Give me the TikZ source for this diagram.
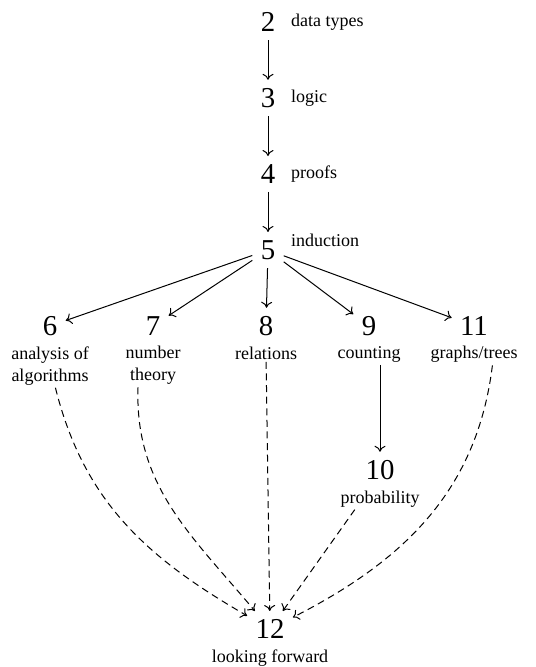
\documentclass[tikz,border=0pt]{standalone}
\usepackage{fontspec}
\setmainfont{Liberation Serif}
\usetikzlibrary{arrows.meta,positioning,calc}

\begin{document}
\begin{tikzpicture}[x=0.5pt, y=-0.5pt, line width=0.5pt,
  num/.style={font=\Large, inner sep=4pt},
  lab/.style={font=\small, align=center, inner sep=1pt},
  arr/.style={-{To[length=3pt, width=5.5pt]}},
  dep/.style={arr, dash pattern=on 3.5pt off 2.3pt}
]
\useasboundingbox (0,0) rectangle (535,667);

% chapter chain
\node[num] (c2) at (268,22) {2};
\node[num] (c3) at (268,98) {3};
\node[num] (c4) at (268,174) {4};
\node[num] (c5) at (268,250) {5};
\node[lab, right=2.5pt of c2] (t2) {data types};
\node[lab, right=2.5pt of c3] (t3) {logic};
\node[lab, right=2.5pt of c4] (t4) {proofs};
\node[lab, right=2.5pt of c5, yshift=5pt] (t5) {induction};

\draw[arr] (c2) -- (c3);
\draw[arr] (c3) -- (c4);
\draw[arr] (c4) -- (c5);

% second row
\node[num] (c6) at (50,326) {6};
\node[num] (c7) at (153,326) {7};
\node[num] (c8) at (266,326) {8};
\node[num] (c9) at (369,326) {9};
\node[num] (c11) at (474,326) {11};
\node[lab, below=0pt of c6] (t6) {analysis of\\algorithms};
\node[lab, below=0pt of c7] (t7) {number\\theory};
\node[lab, below=0pt of c8] (t8) {relations};
\node[lab, below=0pt of c9] (t9) {counting};
\node[lab, below=0pt of c11] (t11) {graphs/trees};

\draw[arr] (c5) -- (c6);
\draw[arr] (c5) -- (c7);
\draw[arr] (c5) -- (c8);
\draw[arr] (c5) -- (c9);
\draw[arr] (c5) -- (c11);

\node[num] (c10) at (380,470) {10};
\node[lab, below=0pt of c10] (t10) {probability};
\draw[arr] (c10 |- t9.south) -- (c10);

\node[num] (c12) at (270,629) {12};
\node[lab, below=0pt of c12] (t12) {looking forward};

% dependencies into the last chapter
\draw[dep] (t6) to[out=-76, in=150] (c12);
\draw[dep] ($(t7.south)!0.5!(t7.south west)$) to[out=-92, in=130] (c12);
\draw[dep] (t8) -- (c12);
\draw[dep] ($(t10.south west)!0.4!(t10.south)$) -- (c12);
\draw[dep] ($(t11.south)!0.4!(t11.south east)$) to[out=-97, in=27] (c12);

\end{tikzpicture}
\end{document}
